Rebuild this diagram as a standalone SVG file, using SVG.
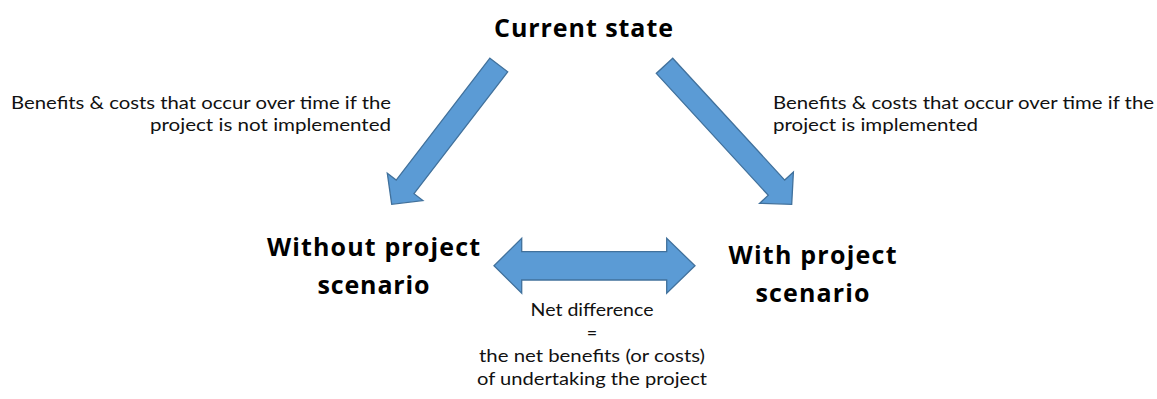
<svg xmlns="http://www.w3.org/2000/svg" width="1157" height="399" viewBox="0 0 1157 399">
  <style>
    .arrow { fill: #5b9bd5; stroke: #41719c; stroke-width: 1.3; stroke-linejoin: miter; }
    .title { font-family: "Open Sans", "Liberation Sans", sans-serif; font-weight: bold; font-size: 25px; fill: #000; }
    .note { font-family: Lato, "Open Sans", sans-serif; font-size: 18px; fill: #111; }
  </style>
  <rect width="1157" height="399" fill="#ffffff"/>

  <!-- block arrows between the scenarios -->
  <g id="connectors">
    <!-- current state to without-project scenario -->
    <polygon class="arrow" points="489.9,58.2 507.7,71.8 414.0,193.7 422.9,200.6 391.7,204.3 387.3,173.2 396.2,180.1"/>
    <!-- current state to with-project scenario -->
    <polygon class="arrow" points="672.7,58.2 656.3,73.4 768.3,195.3 759.6,203.3 791.7,204.3 793.4,172.1 784.7,180.1"/>
    <!-- comparison between the two scenarios -->
    <polygon class="arrow" points="494,265.8 521.7,238.3 521.7,251.7 666.7,251.7 666.7,238.3 695,265.8 666.7,293.3 666.7,280 521.7,280 521.7,293.3"/>
  </g>

  <g id="current-state">
    <text class="title" x="583.5" y="36.7" text-anchor="middle" textLength="179">Current state</text>
  </g>

  <g id="without-project">
    <text class="title" x="373.5" y="255.7" text-anchor="middle" textLength="213">Without project</text>
    <text class="title" x="373.5" y="294" text-anchor="middle" textLength="112">scenario</text>
  </g>

  <g id="with-project">
    <text class="title" x="812.5" y="263.5" text-anchor="middle" textLength="168">With project</text>
    <text class="title" x="812.5" y="301.7" text-anchor="middle" textLength="114">scenario</text>
  </g>

  <g id="note-without">
    <text class="note" x="391" y="109.3" text-anchor="end" textLength="380" lengthAdjust="spacingAndGlyphs">Benefits &amp; costs that occur over time if the</text>
    <text class="note" x="391" y="131" text-anchor="end" textLength="241" lengthAdjust="spacingAndGlyphs">project is not implemented</text>
  </g>

  <g id="note-with">
    <text class="note" x="773" y="109.3" textLength="381" lengthAdjust="spacingAndGlyphs">Benefits &amp; costs that occur over time if the</text>
    <text class="note" x="773" y="131" textLength="205" lengthAdjust="spacingAndGlyphs">project is implemented</text>
  </g>

  <g id="net-difference">
    <text class="note" x="592" y="315.5" text-anchor="middle" textLength="123" lengthAdjust="spacingAndGlyphs">Net difference</text>
    <text class="note" x="592" y="338.5" text-anchor="middle">=</text>
    <text class="note" x="592" y="361.5" text-anchor="middle" textLength="226" lengthAdjust="spacingAndGlyphs">the net benefits (or costs)</text>
    <text class="note" x="592" y="384.5" text-anchor="middle" textLength="230" lengthAdjust="spacingAndGlyphs">of undertaking the project</text>
  </g>
</svg>
